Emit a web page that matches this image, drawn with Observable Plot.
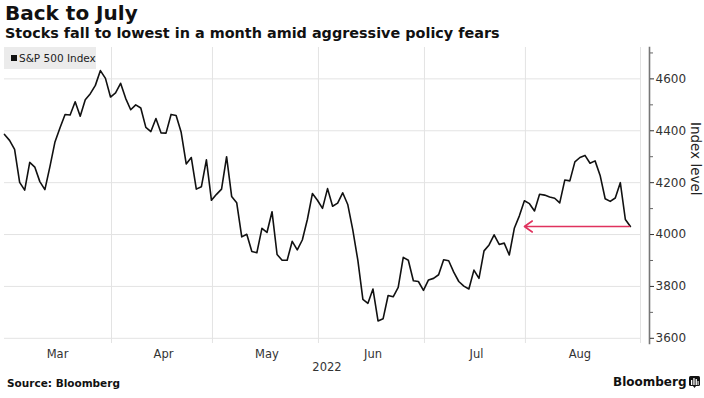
<!DOCTYPE html>
<html><head><meta charset="utf-8">
<script src="https://cdn.jsdelivr.net/npm/d3@7"></script>
<script src="https://cdn.jsdelivr.net/npm/@observablehq/plot@0.6"></script>
<style>
body{margin:0;background:#fff;font-family:"DejaVu Sans",sans-serif;color:#111;}
#wrap{position:relative;width:704px;height:398px;overflow:hidden;background:#fff;}
#title{position:absolute;left:5px;top:1px;font-weight:bold;font-size:20px;line-height:24px;color:#111;white-space:nowrap;}
#subtitle{position:absolute;left:5px;top:24px;font-weight:bold;font-size:14.4px;line-height:18px;color:#111;white-space:nowrap;}
#chart{position:absolute;left:0;top:44px;}
#legend{position:absolute;left:4px;top:47px;width:92px;height:22px;background:#ebebeb;font-size:10.5px;line-height:22px;color:#222;white-space:nowrap;}
#legend .sw{display:inline-block;width:6px;height:6px;background:#111;margin-left:7px;margin-right:2px;vertical-align:1px;}
#source{position:absolute;left:7px;top:376px;font-weight:bold;font-size:10.5px;line-height:14px;color:#111;}
#brand{position:absolute;left:613px;top:374px;font-weight:bold;font-size:12px;line-height:16px;color:#111;white-space:nowrap;}
#brand svg{vertical-align:-2px;margin-left:2px;}
</style></head><body>
<div id="wrap">
  <div id="title">Back to July</div>
  <div id="subtitle">Stocks fall to lowest in a month amid aggressive policy fears</div>
  <div id="chart"></div>
  <div id="legend"><span class="sw"></span>S&amp;P 500 Index</div>
  <div id="source">Source: Bloomberg</div>
  <div id="brand">Bloomberg<svg width="11" height="12" viewBox="0 0 11 12"><rect x="0" y="0" width="11" height="10" rx="1.5" fill="#111"/><path d="M4 10 L5.5 12 L7 10 Z" fill="#111"/><rect x="2" y="4" width="1.3" height="5" fill="#fff"/><rect x="4.3" y="2" width="1.3" height="7" fill="#fff"/><rect x="6.6" y="3" width="1.3" height="6" fill="#fff"/><rect x="8.6" y="5" width="1" height="4" fill="#fff"/></svg></div>
</div>
<script>
const seriesName = "S&P 500 Index";
const dates = [
  "2022-03-02","2022-03-03","2022-03-04","2022-03-07","2022-03-08","2022-03-09","2022-03-10","2022-03-11","2022-03-14","2022-03-15","2022-03-16","2022-03-17","2022-03-18","2022-03-21","2022-03-22","2022-03-23","2022-03-24","2022-03-25","2022-03-28","2022-03-29","2022-03-30","2022-03-31",
  "2022-04-01","2022-04-04","2022-04-05","2022-04-06","2022-04-07","2022-04-08","2022-04-11","2022-04-12","2022-04-13","2022-04-14","2022-04-18","2022-04-19","2022-04-20","2022-04-21","2022-04-22","2022-04-25","2022-04-26","2022-04-27","2022-04-28","2022-04-29",
  "2022-05-02","2022-05-03","2022-05-04","2022-05-05","2022-05-06","2022-05-09","2022-05-10","2022-05-11","2022-05-12","2022-05-13","2022-05-16","2022-05-17","2022-05-18","2022-05-19","2022-05-20","2022-05-23","2022-05-24","2022-05-25","2022-05-26","2022-05-27","2022-05-31",
  "2022-06-01","2022-06-02","2022-06-03","2022-06-06","2022-06-07","2022-06-08","2022-06-09","2022-06-10","2022-06-13","2022-06-14","2022-06-15","2022-06-16","2022-06-17","2022-06-21","2022-06-22","2022-06-23","2022-06-24","2022-06-27","2022-06-28","2022-06-29","2022-06-30",
  "2022-07-01","2022-07-05","2022-07-06","2022-07-07","2022-07-08","2022-07-11","2022-07-12","2022-07-13","2022-07-14","2022-07-15","2022-07-18","2022-07-19","2022-07-20","2022-07-21","2022-07-22","2022-07-25","2022-07-26","2022-07-27","2022-07-28","2022-07-29",
  "2022-08-01","2022-08-02","2022-08-03","2022-08-04","2022-08-05","2022-08-08","2022-08-09","2022-08-10","2022-08-11","2022-08-12","2022-08-15","2022-08-16","2022-08-17","2022-08-18","2022-08-19","2022-08-22","2022-08-23","2022-08-24","2022-08-25","2022-08-26","2022-08-29"
];
const values = [
  4386,4363,4328,4201,4171,4278,4260,4204,4173,4262,4357,4412,4463,4461,4512,4456,4520,4543,4575,4632,4602,4530,
  4546,4583,4525,4481,4500,4488,4413,4397,4447,4392,4391,4463,4459,4394,4272,4297,4175,4184,4288,4132,
  4155,4175,4300,4147,4123,3991,4001,3935,3930,4024,4008,4088,3923,3901,3901,3974,3941,3979,4058,4158,4132,
  4101,4177,4109,4121,4161,4116,4018,3901,3750,3735,3790,3667,3675,3765,3760,3796,3912,3901,3822,3819,3785,
  3825,3831,3845,3903,3899,3855,3819,3801,3790,3863,3831,3937,3960,3999,3962,3967,3921,4024,4072,4130,
  4119,4091,4155,4152,4145,4140,4122,4210,4207,4280,4297,4305,4275,4284,4228,4138,4128,4141,4200,4058,4031
];
const monthNames = ["Mar","Apr","May","Jun","Jul","Aug"];
const yearLabel = "2022";
const majorTicks = [3600,3800,4000,4200,4400,4600];
const minorTicks = [3700,3900,4100,4300,4500,4700];
const yAxisLabel = "Index level";
const arrowTargetDate = "2022-07-29";

// Build table (trading-day index axis, like Bloomberg)
const rows = dates.map((d, i) => ({i, date: d, value: values[i]}));
const n = rows.length;
const monthStarts = [];
dates.forEach((d, i) => { if (i === 0 || d.slice(5,7) !== dates[i-1].slice(5,7)) monthStarts.push(i); });
const monthEnds = monthStarts.map((s, k) => (k + 1 < monthStarts.length ? monthStarts[k+1] - 1 : n - 1));
const monthCenters = monthStarts.map((s, k) => (s + monthEnds[k]) / 2);
const xEnd = n + 1;                       // right edge of plotting area (index units)
const monthBounds = monthStarts.slice(1).map(s => s - 0.8).concat([xEnd]);
const lastRow = rows[n - 1];
const targetRow = rows[dates.indexOf(arrowTargetDate)];
const arrowData = [{x1: lastRow.i, x2: targetRow.i, y: lastRow.value}];

const W = 704, H = 334;
const mL = 4, mR = 55, mT = 3, mB = 35;
const pxPerIdx = (640 - mL) / xEnd;
const xMax = (W - mR - mL) / pxPerIdx;

const chart = Plot.plot({
  width: W, height: H,
  marginLeft: mL, marginRight: mR, marginTop: mT, marginBottom: mB,
  style: {fontFamily: "DejaVu Sans, sans-serif", background: "#fff", color: "#222"},
  x: {domain: [0, xMax], axis: null},
  y: {domain: [3580, 4721], axis: null},
  marks: [
    Plot.ruleY(majorTicks, {x1: 0, x2: xEnd, stroke: "#e3e3e3", strokeWidth: 1}),
    Plot.ruleX(monthBounds, {stroke: "#e3e3e3", strokeWidth: 1}),
    Plot.lineY(rows, {x: "i", y: "value", stroke: "#111", strokeWidth: 1.6, strokeLinejoin: "round"}),
    Plot.arrow(arrowData, {x1: "x1", x2: "x2", y1: "y", y2: "y", stroke: "#e0325e", strokeWidth: 1.6, headLength: 9, headAngle: 70, insetStart: 1}),
    Plot.frame({anchor: "right", stroke: "#777", strokeWidth: 1.6}),
    Plot.axisY(majorTicks, {anchor: "right", tickSize: 4, tickPadding: 2, fontSize: 12, color: "#333", stroke: "#333", label: null, tickFormat: d => String(d)}),
    Plot.axisY(minorTicks, {anchor: "right", tickSize: 3, tickFormat: () => "", stroke: "#666", label: null}),
    Plot.axisX(monthCenters, {anchor: "bottom", tickSize: 0, tickPadding: 6, fontSize: 11.5, color: "#333",
      tickFormat: d => monthNames[monthCenters.indexOf(d)], label: null}),
    Plot.text([yearLabel], {x: () => xMax / 2, frameAnchor: "bottom", dy: 27, fontSize: 11.5, fill: "#333", text: d => d}),
    Plot.text([yAxisLabel], {frameAnchor: "right", dx: 46, rotate: 90, fontSize: 13.5, fill: "#222", text: d => d})
  ]
});
document.getElementById("chart").appendChild(chart);
</script>
</body></html>
